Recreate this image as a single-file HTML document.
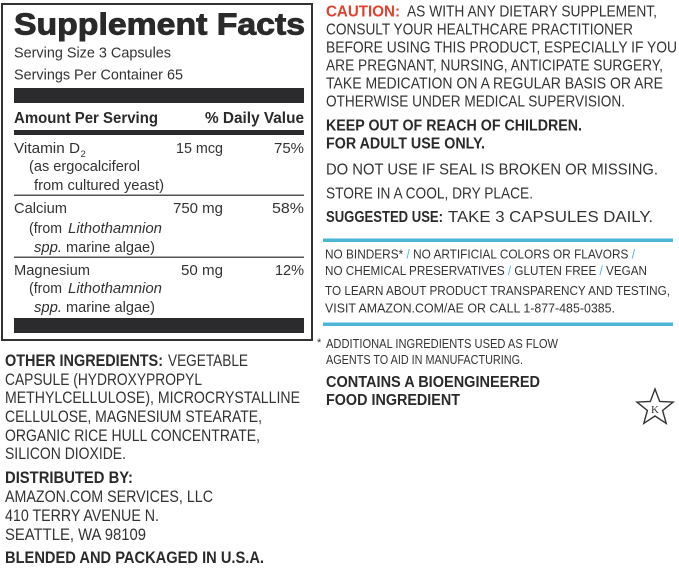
<!DOCTYPE html>
<html><head><meta charset="utf-8"><style>
html,body{margin:0;padding:0;background:#fff;}
svg{display:block;}
text{font-family:"Liberation Sans",Arial,sans-serif;fill:#333;}
.b{font-weight:bold;fill:#2a2a2a;}
.i{font-style:italic;}
</style></head><body>
<svg width="679" height="568" viewBox="0 0 679 568" xmlns="http://www.w3.org/2000/svg">
<rect width="679" height="568" fill="#fff"/>
<!-- Facts box -->
<rect x="2" y="4" width="310" height="336" fill="none" stroke="#333" stroke-width="2"/>
<text x="14" y="34.5" font-size="31" class="b" stroke="#2a2a2a" stroke-width="0.9" textLength="291" lengthAdjust="spacingAndGlyphs">Supplement Facts</text>
<text x="14" y="57.7" font-size="15" textLength="157" lengthAdjust="spacingAndGlyphs">Serving Size 3 Capsules</text>
<text x="14" y="79.5" font-size="15" textLength="169" lengthAdjust="spacingAndGlyphs">Servings Per Container 65</text>
<rect x="14" y="88" width="290" height="15" fill="#2b2b2e"/>
<text x="14" y="123" font-size="16" class="b" textLength="144" lengthAdjust="spacingAndGlyphs">Amount Per Serving</text>
<text x="205" y="123" font-size="16" class="b" textLength="99" lengthAdjust="spacingAndGlyphs">% Daily Value</text>
<rect x="14" y="130" width="290" height="5" fill="#2b2b2e"/>

<text x="14" y="153" font-size="15" textLength="66" lengthAdjust="spacingAndGlyphs">Vitamin D</text>
<text x="80.5" y="157" font-size="9.5">2</text>
<text x="176" y="153" font-size="15" textLength="47" lengthAdjust="spacingAndGlyphs">15 mcg</text>
<text x="274" y="153" font-size="15" textLength="30" lengthAdjust="spacingAndGlyphs">75%</text>
<text x="29" y="171" font-size="15" textLength="111" lengthAdjust="spacingAndGlyphs">(as ergocalciferol</text>
<text x="34" y="190" font-size="15" textLength="130" lengthAdjust="spacingAndGlyphs">from cultured yeast)</text>
<rect x="14" y="194.5" width="290" height="1.5" fill="#555"/>

<text x="14" y="213" font-size="15" textLength="53" lengthAdjust="spacingAndGlyphs">Calcium</text>
<text x="173" y="213" font-size="15" textLength="50" lengthAdjust="spacingAndGlyphs">750 mg</text>
<text x="272" y="213" font-size="15" textLength="32" lengthAdjust="spacingAndGlyphs">58%</text>
<text x="29" y="233" font-size="15" textLength="33" lengthAdjust="spacingAndGlyphs">(from</text>
<text x="68" y="233" font-size="15" class="i" textLength="94" lengthAdjust="spacingAndGlyphs">Lithothamnion</text>
<text x="34" y="252" font-size="15" class="i" textLength="28" lengthAdjust="spacingAndGlyphs">spp.</text>
<text x="66" y="252" font-size="15" textLength="89" lengthAdjust="spacingAndGlyphs">marine algae)</text>
<rect x="14" y="256.5" width="290" height="1.5" fill="#555"/>

<text x="14" y="275" font-size="15" textLength="76" lengthAdjust="spacingAndGlyphs">Magnesium</text>
<text x="181" y="275" font-size="15" textLength="42" lengthAdjust="spacingAndGlyphs">50 mg</text>
<text x="275" y="275" font-size="15" textLength="29" lengthAdjust="spacingAndGlyphs">12%</text>
<text x="29" y="293" font-size="15" textLength="33" lengthAdjust="spacingAndGlyphs">(from</text>
<text x="68" y="293" font-size="15" class="i" textLength="94" lengthAdjust="spacingAndGlyphs">Lithothamnion</text>
<text x="34" y="312" font-size="15" class="i" textLength="28" lengthAdjust="spacingAndGlyphs">spp.</text>
<text x="66" y="312" font-size="15" textLength="89" lengthAdjust="spacingAndGlyphs">marine algae)</text>
<rect x="14" y="318" width="290" height="15" fill="#2b2b2e"/>

<!-- Left bottom -->
<text x="5" y="366" font-size="16.5" class="b" textLength="158" lengthAdjust="spacingAndGlyphs">OTHER INGREDIENTS:</text>
<text x="168" y="366" font-size="16.5" textLength="80" lengthAdjust="spacingAndGlyphs">VEGETABLE</text>
<text x="5" y="385" font-size="16.5" textLength="197" lengthAdjust="spacingAndGlyphs">CAPSULE (HYDROXYPROPYL</text>
<text x="5" y="403" font-size="16.5" textLength="295" lengthAdjust="spacingAndGlyphs">METHYLCELLULOSE), MICROCRYSTALLINE</text>
<text x="5" y="422" font-size="16.5" textLength="257" lengthAdjust="spacingAndGlyphs">CELLULOSE, MAGNESIUM STEARATE,</text>
<text x="5" y="441" font-size="16.5" textLength="255" lengthAdjust="spacingAndGlyphs">ORGANIC RICE HULL CONCENTRATE,</text>
<text x="5" y="459" font-size="16.5" textLength="121" lengthAdjust="spacingAndGlyphs">SILICON DIOXIDE.</text>
<text x="5" y="483" font-size="16.5" class="b" textLength="128" lengthAdjust="spacingAndGlyphs">DISTRIBUTED BY:</text>
<text x="5" y="502" font-size="16.5" textLength="208" lengthAdjust="spacingAndGlyphs">AMAZON.COM SERVICES, LLC</text>
<text x="5" y="521" font-size="16.5" textLength="154" lengthAdjust="spacingAndGlyphs">410 TERRY AVENUE N.</text>
<text x="5" y="540" font-size="16.5" textLength="141" lengthAdjust="spacingAndGlyphs">SEATTLE, WA 98109</text>
<text x="5" y="563" font-size="16.5" class="b" textLength="259" lengthAdjust="spacingAndGlyphs">BLENDED AND PACKAGED IN U.S.A.</text>

<!-- Right column -->
<text x="326" y="16.7" font-size="15.5" class="b" style="fill:#e0412f" textLength="74" lengthAdjust="spacingAndGlyphs">CAUTION:</text>
<text x="407" y="16.7" font-size="15.5" textLength="250" lengthAdjust="spacingAndGlyphs">AS WITH ANY DIETARY SUPPLEMENT,</text>
<text x="326" y="34.6" font-size="15.5" textLength="307" lengthAdjust="spacingAndGlyphs">CONSULT YOUR HEALTHCARE PRACTITIONER</text>
<text x="326" y="52.5" font-size="15.5" textLength="351" lengthAdjust="spacingAndGlyphs">BEFORE USING THIS PRODUCT, ESPECIALLY IF YOU</text>
<text x="326" y="70.4" font-size="15.5" textLength="337" lengthAdjust="spacingAndGlyphs">ARE PREGNANT, NURSING, ANTICIPATE SURGERY,</text>
<text x="326" y="88.4" font-size="15.5" textLength="337" lengthAdjust="spacingAndGlyphs">TAKE MEDICATION ON A REGULAR BASIS OR ARE</text>
<text x="326" y="106.4" font-size="15.5" textLength="299" lengthAdjust="spacingAndGlyphs">OTHERWISE UNDER MEDICAL SUPERVISION.</text>
<text x="326" y="130.5" font-size="15.5" class="b" textLength="256" lengthAdjust="spacingAndGlyphs">KEEP OUT OF REACH OF CHILDREN.</text>
<text x="326" y="148.5" font-size="15.5" class="b" textLength="159" lengthAdjust="spacingAndGlyphs">FOR ADULT USE ONLY.</text>
<text x="326" y="174.5" font-size="15.5" textLength="332" lengthAdjust="spacingAndGlyphs">DO NOT USE IF SEAL IS BROKEN OR MISSING.</text>
<text x="326" y="198.5" font-size="15.5" textLength="207" lengthAdjust="spacingAndGlyphs">STORE IN A COOL, DRY PLACE.</text>
<text x="326" y="222.2" font-size="15.5" class="b" textLength="117" lengthAdjust="spacingAndGlyphs">SUGGESTED USE:</text>
<text x="448" y="222.2" font-size="15.5" textLength="205" lengthAdjust="spacingAndGlyphs">TAKE 3 CAPSULES DAILY.</text>

<rect x="323" y="238.5" width="350" height="3.5" fill="#4ab5d6"/>
<text x="325" y="258.3" font-size="13" textLength="310" lengthAdjust="spacingAndGlyphs">NO BINDERS* <tspan style="fill:#4ab5d6">/</tspan> NO ARTIFICIAL COLORS OR FLAVORS <tspan style="fill:#4ab5d6">/</tspan></text>
<text x="325" y="275" font-size="13" textLength="322" lengthAdjust="spacingAndGlyphs">NO CHEMICAL PRESERVATIVES <tspan style="fill:#4ab5d6">/</tspan> GLUTEN FREE <tspan style="fill:#4ab5d6">/</tspan> VEGAN</text>
<text x="325" y="295" font-size="13" textLength="345" lengthAdjust="spacingAndGlyphs">TO LEARN ABOUT PRODUCT TRANSPARENCY AND TESTING,</text>
<text x="325" y="312.3" font-size="13" textLength="290" lengthAdjust="spacingAndGlyphs">VISIT AMAZON.COM/AE OR CALL 1-877-485-0385.</text>
<rect x="323" y="322.5" width="350" height="3.5" fill="#4ab5d6"/>

<text x="317" y="346" font-size="11">*</text>
<text x="326" y="348" font-size="13" textLength="232" lengthAdjust="spacingAndGlyphs">ADDITIONAL INGREDIENTS USED AS FLOW</text>
<text x="326" y="364" font-size="13" textLength="197" lengthAdjust="spacingAndGlyphs">AGENTS TO AID IN MANUFACTURING.</text>
<text x="326" y="387" font-size="16" class="b" textLength="214" lengthAdjust="spacingAndGlyphs">CONTAINS A BIOENGINEERED</text>
<text x="326" y="405" font-size="16" class="b" textLength="134" lengthAdjust="spacingAndGlyphs">FOOD INGREDIENT</text>

<!-- Kosher star -->
<polygon points="655,389 659.7,401.5 673.1,402.1 662.6,410.5 666.2,423.4 655,416 643.8,423.4 647.4,410.5 636.9,402.1 650.3,401.5" fill="none" stroke="#333" stroke-width="1.4" stroke-linejoin="miter"/>
<text x="655" y="413" font-size="11" text-anchor="middle" style="font-family:'Liberation Serif',serif;fill:#333">K</text>
</svg>
</body></html>
